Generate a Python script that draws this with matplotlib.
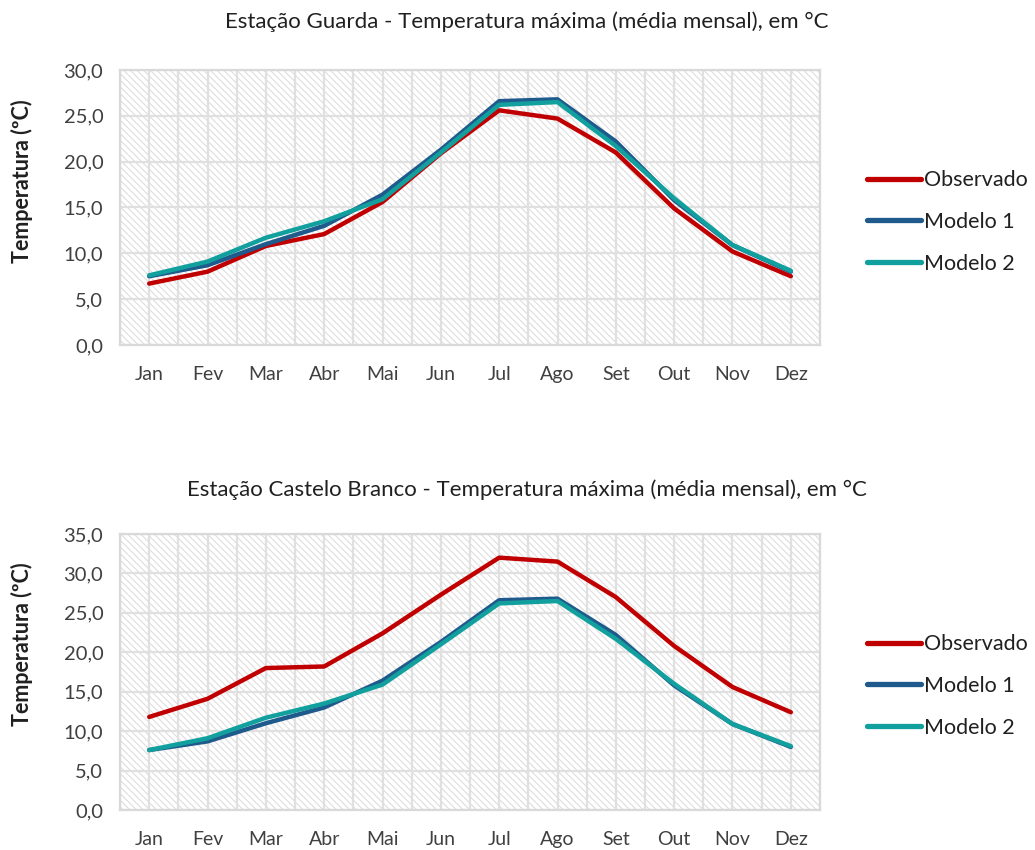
import matplotlib
matplotlib.use("Agg")
import matplotlib.pyplot as plt
from matplotlib.ticker import FuncFormatter, MultipleLocator

plt.rcParams['font.family'] = ['Lato', 'DejaVu Sans']
plt.rcParams['hatch.linewidth'] = 0.8

months = ["Jan", "Fev", "Mar", "Abr", "Mai", "Jun", "Jul", "Ago", "Set", "Out", "Nov", "Dez"]

guarda_obs = [6.7, 8.0, 10.8, 12.1, 15.6, 20.9, 25.6, 24.7, 21.0, 14.9, 10.2, 7.5]
guarda_m1 = [7.5, 8.7, 11.0, 13.0, 16.4, 21.3, 26.6, 26.8, 22.2, 15.8, 10.9, 8.0]
guarda_m2 = [7.6, 9.1, 11.7, 13.5, 15.9, 21.0, 26.2, 26.5, 21.7, 16.0, 10.9, 8.1]

cb_obs = [11.8, 14.1, 18.0, 18.2, 22.4, 27.3, 32.0, 31.5, 27.0, 20.8, 15.6, 12.4]
cb_m1 = [7.6, 8.7, 11.0, 13.0, 16.4, 21.3, 26.6, 26.8, 22.2, 15.8, 10.9, 8.0]
cb_m2 = [7.6, 9.1, 11.7, 13.5, 15.9, 21.0, 26.2, 26.5, 21.7, 16.0, 10.9, 8.1]

series_names = ["Observado", "Modelo 1", "Modelo 2"]
colors = ["#C00000", "#1F5A8C", "#12A09E"]

titles = ["Estação Guarda - Temperatura máxima (média mensal), em °C",
          "Estação Castelo Branco - Temperatura máxima (média mensal), em °C"]
ymaxes = [30, 35]

W, H = 1035, 850
fig = plt.figure(figsize=(W / 100, H / 100), dpi=100)

axes_px = [(120, 70, 820, 345), (120, 534, 820, 810)]
data = [(guarda_obs, guarda_m1, guarda_m2), (cb_obs, cb_m1, cb_m2)]
title_y = [22, 490]
ylabel_cy = [181, 644]
legend_cy = [222, 686]

for i in range(2):
    l, t, r, b = axes_px[i]
    ax = fig.add_axes([l / W, 1 - b / H, (r - l) / W, (b - t) / H])
    ax.patch.set_facecolor("white")
    ax.patch.set_hatch("\\\\\\\\\\")
    ax.patch.set_edgecolor("#dedede")
    ax.patch.set_linewidth(0)
    x = list(range(len(months)))
    for vals, name, c in zip(data[i], series_names, colors):
        ax.plot(x, vals, color=c, lw=3.2, label=name, solid_capstyle="round",
                solid_joinstyle="round", zorder=3)
    ax.set_xlim(-0.5, 11.5)
    ax.set_ylim(0, ymaxes[i])
    ax.yaxis.set_major_locator(MultipleLocator(5))
    ax.yaxis.set_major_formatter(FuncFormatter(lambda v, p: f"{v:.1f}".replace(".", ",")))
    ax.set_xticks(x)
    ax.set_xticklabels(months)
    ax.set_xticks([k + 0.5 for k in range(-1, 12)], minor=True)
    ax.grid(True, which="major", axis="both", color="#e0e0e0", lw=1.6, zorder=1)
    ax.grid(True, which="minor", axis="x", color="#e0e0e0", lw=1.6, zorder=1)
    ax.set_axisbelow(True)
    ax.tick_params(axis="both", which="both", length=0)
    ax.tick_params(axis="y", pad=12, labelsize=14.5, labelcolor="#404040")
    ax.tick_params(axis="x", pad=15, labelsize=14, labelcolor="#404040")
    for s in ax.spines.values():
        s.set_color("#d9d9d9")
        s.set_linewidth(1.6)
    ax.set_ylabel("Temperatura (ºC)", fontsize=15.5, fontweight="bold", color="#202020",
                  va="center")
    ax.yaxis.set_label_coords((22 - l) / (r - l), (b - ylabel_cy[i]) / (b - t))
    fig.text(527 / W, 1 - title_y[i] / H, titles[i], ha="center", va="center",
             fontsize=16, color="#202020")
    leg = ax.legend(loc="center left",
                    bbox_to_anchor=(1.055, (b - legend_cy[i]) / (b - t)), frameon=False,
                    fontsize=15.5, handlelength=2.5, handletextpad=0.15, labelspacing=1.0,
                    labelcolor="#202020", borderaxespad=0)
    for h in leg.get_lines():
        h.set_linewidth(3.8)

fig.savefig("out.png", dpi=100, facecolor="white")
